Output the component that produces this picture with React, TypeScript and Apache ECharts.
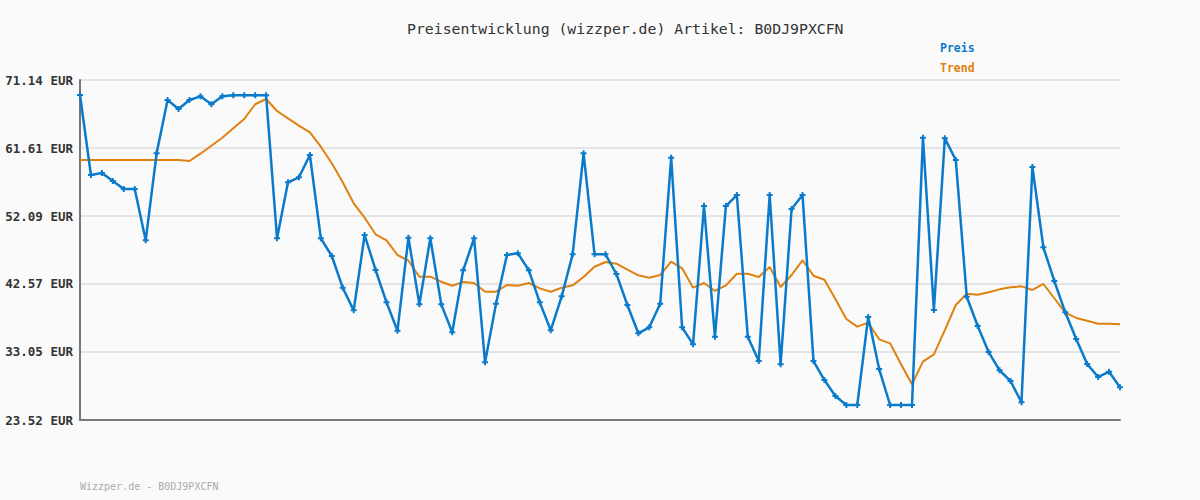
import React, { useEffect, useRef } from "react";
import * as echarts from "echarts";

const titleText = "Preisentwicklung (wizzper.de) Artikel: B0DJ9PXCFN";
const footerText = "Wizzper.de - B0DJ9PXCFN";

const yTickLabels = ["23.52", "33.05", "42.57", "52.09", "61.61", "71.14"];

const preis = [
  69.04, 57.83, 58.11, 56.99, 55.87, 55.87, 48.69, 60.87, 68.34, 67.08,
  68.34, 68.85, 67.74, 68.85, 69.0, 69.0, 69.0, 69.0, 48.97, 56.81,
  57.51, 60.64, 48.97, 46.49, 42.05, 38.88, 49.43, 44.53, 40.0, 36.03,
  49.05, 39.72, 48.97, 39.72, 35.8, 44.48, 48.97, 31.6, 39.81, 46.63,
  46.86, 44.48, 40.0, 36.08, 40.84, 46.72, 60.87, 46.72, 46.72, 43.97,
  39.63, 35.66, 36.5, 39.81, 60.26, 36.5, 34.12, 53.49, 35.19, 53.49,
  55.03, 35.19, 31.78, 55.03, 31.32, 53.07, 55.03, 31.78, 29.12, 26.88,
  25.62, 25.62, 37.95, 30.66, 25.62, 25.62, 25.62, 63.06, 38.93, 62.97,
  59.94, 40.79, 36.68, 33.04, 30.48, 28.98, 26.0, 58.95, 47.71, 42.99,
  38.6, 34.87, 31.36, 29.54, 30.29, 28.1,
];

const trend = [
  59.94, 59.94, 59.94, 59.94, 59.94, 59.94, 59.94, 59.94, 59.94, 59.94,
  59.8, 60.82, 61.94, 63.06, 64.37, 65.68, 67.74, 68.48, 66.8, 65.77,
  64.74, 63.81, 61.8, 59.47, 56.81, 53.87, 51.85, 49.53, 48.69, 46.63,
  45.83, 43.59, 43.59, 42.89, 42.33, 42.85, 42.71, 41.49, 41.49, 42.43,
  42.33, 42.71, 41.96, 41.49, 42.05, 42.38, 43.55, 44.99, 45.65, 45.41,
  44.57, 43.78, 43.45, 43.83, 45.69, 44.76, 42.05, 42.71, 41.59, 42.38,
  44.01, 44.01, 43.55, 44.95, 42.15, 43.83, 45.89, 43.73, 43.17, 40.47,
  37.67, 36.59, 37.15, 34.82, 34.26, 31.32, 28.52, 31.69, 32.72, 36.12,
  39.63, 41.21, 41.07, 41.4, 41.82, 42.1, 42.24, 41.73, 42.57, 40.57,
  38.55, 37.81, 37.43, 37.01, 37.01, 36.92,
];

const categories = preis.map((_, i) => String(i + 1));

const BLUE = "#0a7acb";
const ORANGE = "#e0810f";
const MONO = "'DejaVu Sans Mono', 'Liberation Mono', monospace";
const plusSymbol = "path://M2,0L4,0L4,2L6,2L6,4L4,4L4,6L2,6L2,4L0,4L0,2L2,2Z";

export default function App() {
  const ref = useRef<HTMLDivElement>(null);

  useEffect(() => {
    document.body.style.margin = "0";
    const chart = echarts.init(ref.current!, null, { renderer: "svg" });
    const tickValues = yTickLabels.map(Number);
    chart.setOption({
      animation: false,
      backgroundColor: "#fafafa",
      title: {
        text: titleText,
        left: 402,
        top: 16,
        textStyle: {
          fontFamily: MONO,
          fontSize: 14.8,
          fontWeight: "normal",
          color: "#333",
        },
      },
      legend: {
        orient: "vertical",
        left: 930,
        top: 37,
        icon: "none",
        itemWidth: 0,
        itemHeight: 10,
        itemGap: 8,
        selectedMode: false,
        data: [
          { name: "Preis", textStyle: { color: BLUE } },
          { name: "Trend", textStyle: { color: ORANGE } },
        ],
        textStyle: { fontFamily: MONO, fontSize: 11.5, fontWeight: "bold" },
      },
      graphic: [
        {
          type: "text",
          left: 80,
          top: 481,
          style: {
            text: footerText,
            fontFamily: MONO,
            fontSize: 10,
            fill: "#aaa",
          },
        },
      ],
      grid: { left: 80, right: 80, top: 80, bottom: 80 },
      xAxis: {
        type: "category",
        data: categories,
        boundaryGap: false,
        axisLine: { show: true, lineStyle: { color: "#777", width: 2 } },
        axisTick: { show: false },
        axisLabel: { show: false },
        splitLine: { show: false },
      },
      yAxis: {
        type: "value",
        min: tickValues[0],
        max: tickValues[tickValues.length - 1],
        axisLine: { show: true, lineStyle: { color: "#777", width: 2 } },
        axisTick: { show: false, customValues: tickValues },
        axisLabel: {
          customValues: tickValues,
          margin: 7,
          fontFamily: MONO,
          fontSize: 12.5,
          fontWeight: "bold",
          color: "#333",
          formatter: (v: number) => {
            let best = 0;
            tickValues.forEach((t, i) => {
              if (Math.abs(t - v) < Math.abs(tickValues[best] - v)) best = i;
            });
            return yTickLabels[best] + " EUR";
          },
        },
        splitLine: { show: true, lineStyle: { color: "#e4e4e4", width: 2 } },
      },
      series: [
        {
          name: "Trend",
          type: "line",
          data: trend,
          showSymbol: false,
          symbol: "none",
          lineStyle: { color: ORANGE, width: 2 },
          itemStyle: { color: ORANGE },
          z: 2,
        },
        {
          name: "Preis",
          type: "line",
          data: preis,
          symbol: plusSymbol,
          symbolSize: 6,
          showAllSymbol: true,
          lineStyle: { color: BLUE, width: 2.5 },
          itemStyle: { color: BLUE },
          z: 3,
        },
      ],
    });
    return () => chart.dispose();
  }, []);

  return <div ref={ref} style={{ width: 1200, height: 500 }} />;
}
